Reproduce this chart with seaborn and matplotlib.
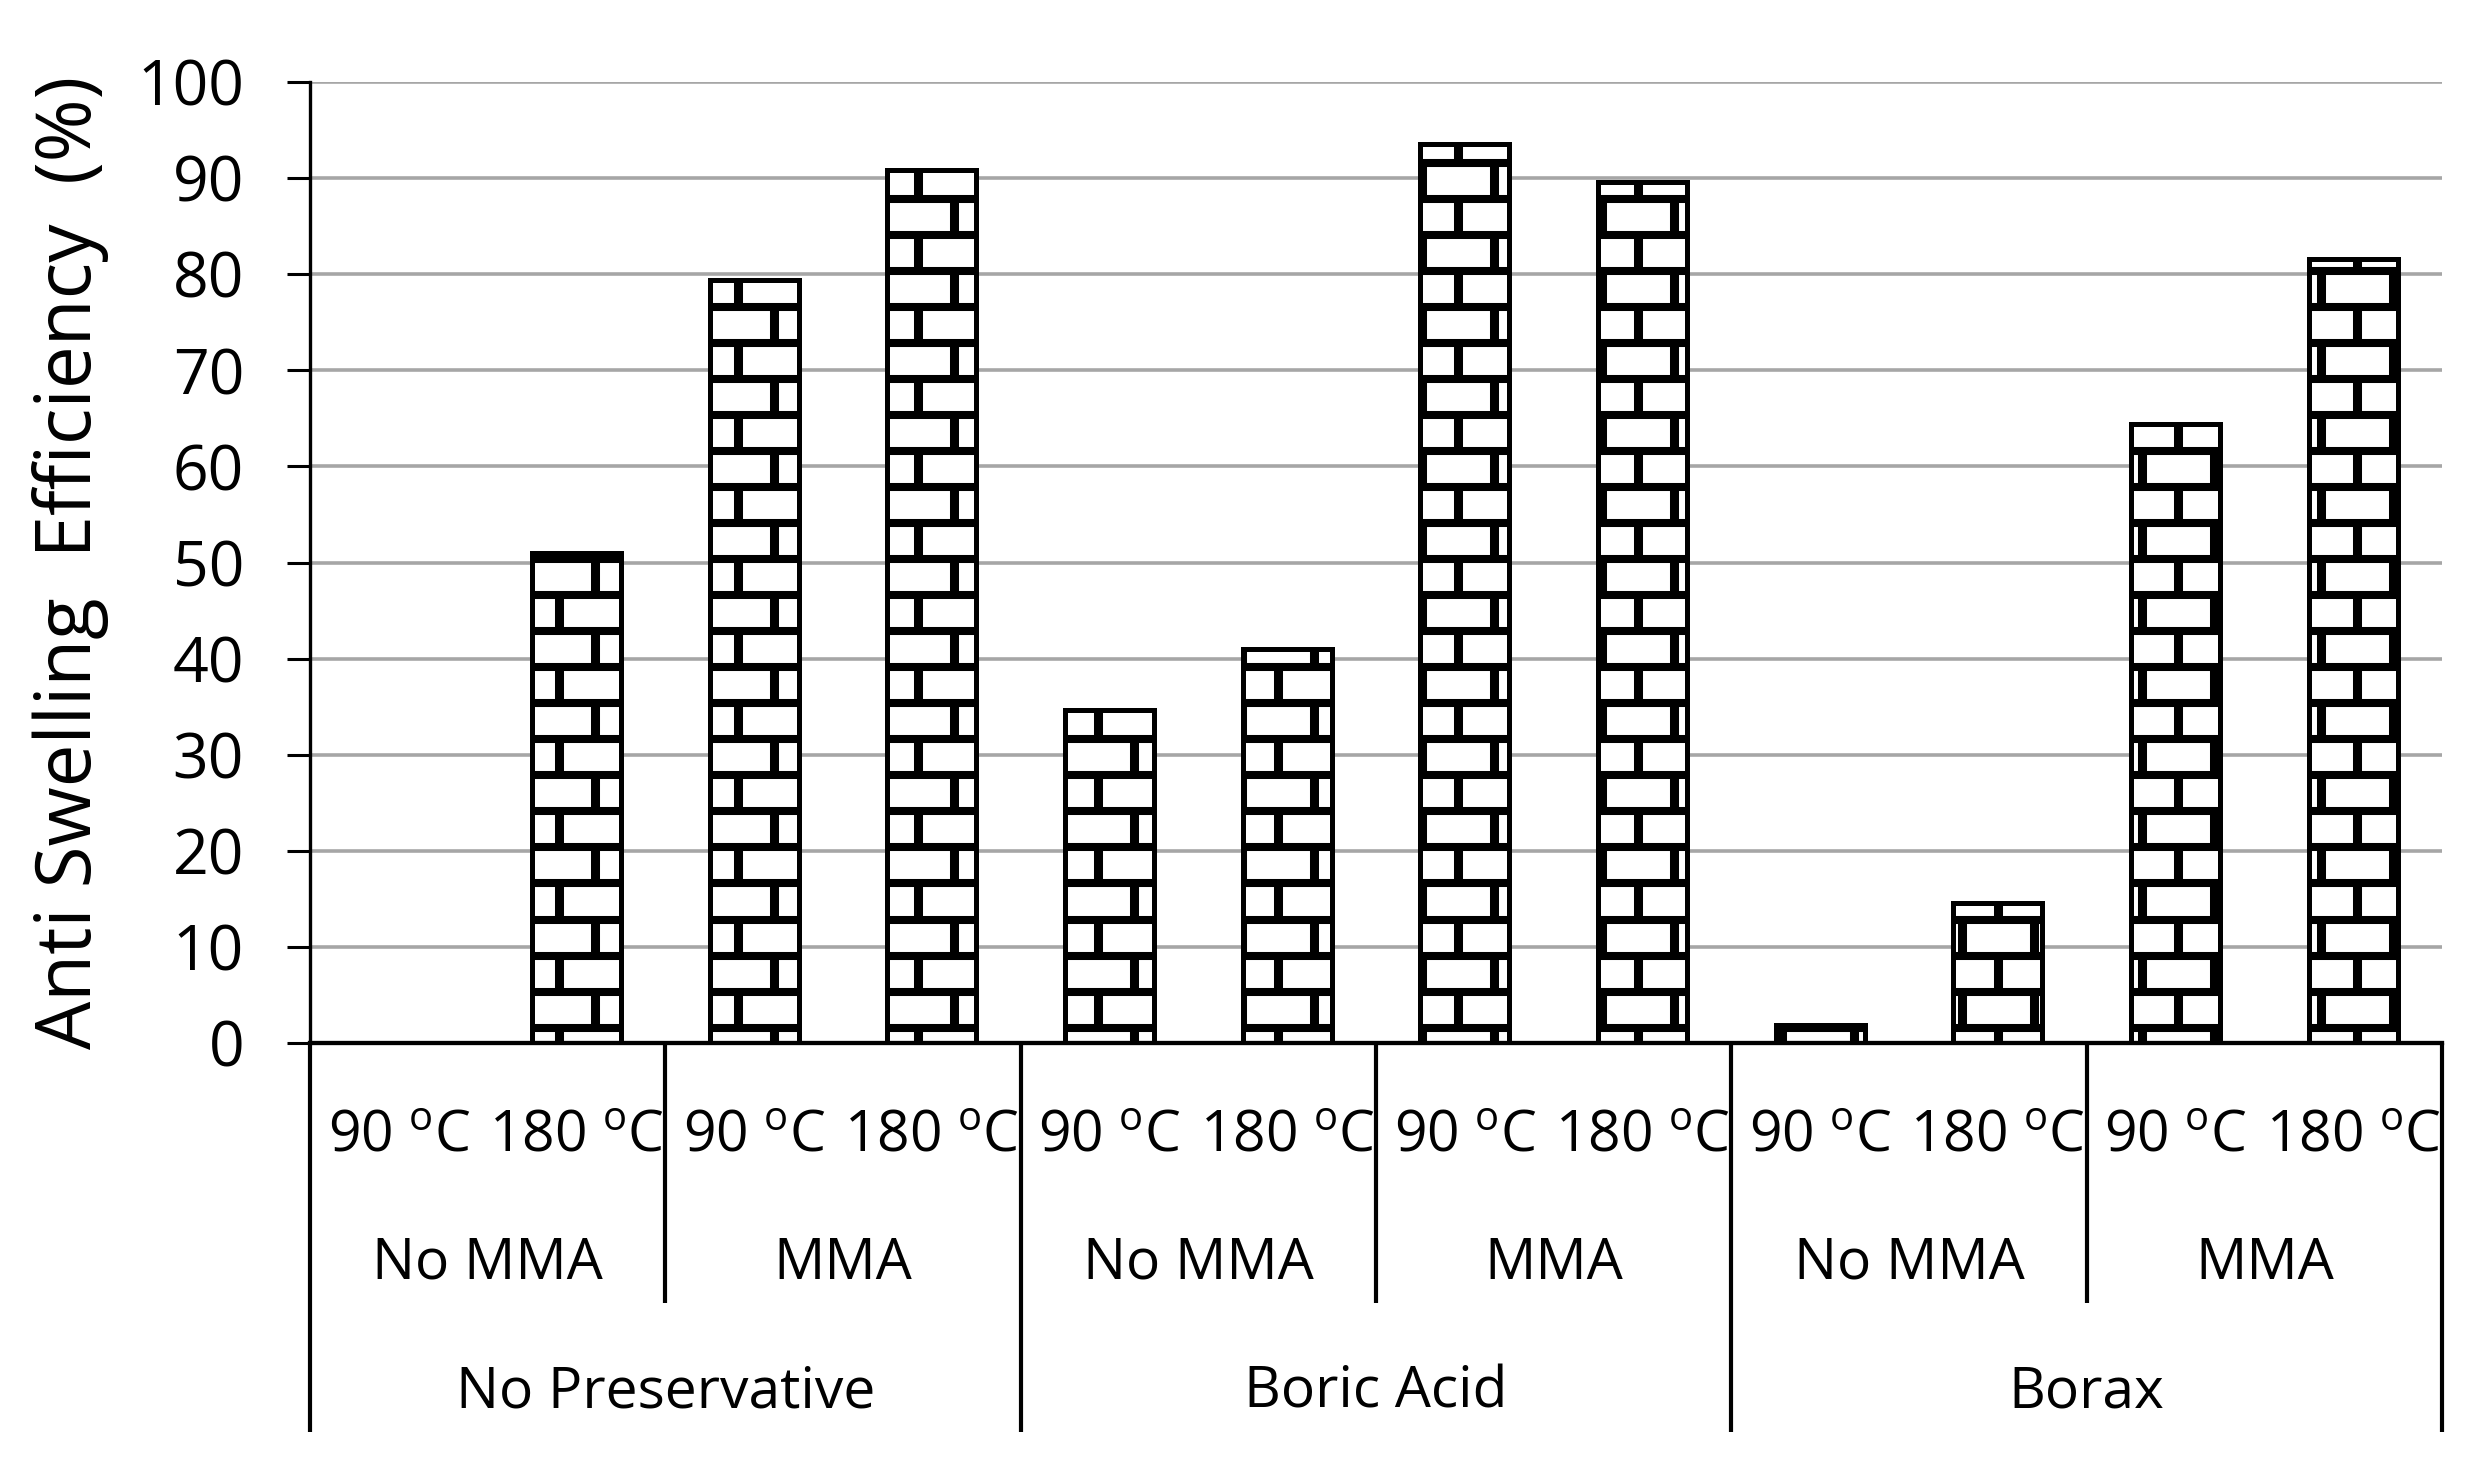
import numpy as np
import pandas as pd
import matplotlib
matplotlib.use("Agg")
import matplotlib.pyplot as plt
import matplotlib.transforms as mtransforms
from matplotlib.collections import LineCollection
import seaborn as sns

# ── Data ──────────────────────────────────────────────────────────────────────

preservatives = ["No Preservative", "Boric Acid", "Borax"]
mma_groups = ["No MMA", "MMA"]
temps = ["90 $^{\\mathrm{o}}$C", "180 $^{\\mathrm{o}}$C"]

ase = [0.0, 51.0, 79.4, 90.8,
       34.7, 41.0, 93.5, 89.6,
       1.9, 14.6, 64.4, 81.6]

rows = []
i = 0
for p in preservatives:
    for m in mma_groups:
        for t in temps:
            rows.append({"key": f"{p}|{m}|{t}", "pres": p, "mma": m,
                         "temp": t, "ase": ase[i]})
            i += 1
df = pd.DataFrame(rows)

# ── Style ─────────────────────────────────────────────────────────────────────

sns.set_style("white")
plt.rcParams["font.family"] = ["Open Sans", "DejaVu Sans"]
plt.rcParams["mathtext.fontset"] = "custom"
plt.rcParams["mathtext.rm"] = "Open Sans"
plt.rcParams["text.color"] = "black"
plt.rcParams["axes.labelcolor"] = "black"
plt.rcParams["ytick.color"] = "black"

fig = plt.figure(figsize=(24.67, 14.68), dpi=100)
ax = fig.add_axes([310 / 2467, 1 - 1043 / 1468, 2132 / 2467, 961 / 1468])

sns.barplot(data=df, x="key", y="ase", order=df["key"], width=0.5,
            color="white", saturation=1, edgecolor="black", linewidth=3.6,
            errorbar=None, ax=ax, zorder=2)

ax.set_ylim(0, 100)
ax.set_xlim(-0.5, len(df) - 0.5)
ax.set_yticks(range(0, 101, 10))
ax.set_axisbelow(True)
ax.yaxis.grid(True, color="#a6a6a6", linewidth=2.6)
ax.xaxis.grid(False)

for s in ["top", "right"]:
    ax.spines[s].set_visible(False)
ax.spines["left"].set_linewidth(2.4)
ax.spines["bottom"].set_linewidth(3.1)
ax.spines["left"].set_color("black")
ax.spines["bottom"].set_color("black")
ax.spines["bottom"].set_zorder(5)

ax.tick_params(axis="y", direction="out", length=16.5, width=2.2,
               color="black", labelcolor="black", labelsize=45, pad=31,
               left=True)
ax.tick_params(axis="x", bottom=False, labelbottom=False)
ax.set_xlabel("")
ax.set_ylabel("Anti Swelling  Efficiency  (%)", fontsize=55, labelpad=20,
              color="black")

# ── Brick pattern inside each bar ─────────────────────────────────────────────

row_pitch = 3.75      # data units
row_start = 1.6
brick_len = 0.405     # x data units
joint_x0 = 0.899

for bar in ax.patches:
    x0 = bar.get_x()
    w = bar.get_width()
    h = bar.get_height()
    if h <= 0:
        continue
    hsegs = []
    ys = np.arange(row_start, h, row_pitch)
    for y in ys:
        hsegs.append([(x0, y), (x0 + w, y)])
    vsegs = []
    bounds = np.concatenate([[0], ys, [h]])
    for r in range(len(bounds) - 1):
        phase = joint_x0 + (r % 2) * brick_len / 2
        k0 = np.floor((x0 - phase) / brick_len) - 1
        xs = phase + brick_len * np.arange(k0, k0 + 6)
        for xj in xs:
            if x0 - 0.03 <= xj <= x0 + w + 0.03:
                vsegs.append([(xj, bounds[r]), (xj, bounds[r + 1])])
    for segs, lw in [(hsegs, 5.8), (vsegs, 6.5)]:
        lc = LineCollection(segs, colors="black", linewidths=lw,
                            capstyle="butt", zorder=3)
        ax.add_collection(lc)
        lc.set_clip_path(bar)
    # redraw the outline on top
    ax.add_patch(plt.Rectangle((x0, 0), w, h, fill=False, edgecolor="black",
                               linewidth=3.6, zorder=4))

# ── Multi-level category axis ─────────────────────────────────────────────────

trans = mtransforms.blended_transform_factory(ax.transData, ax.transAxes)
n = len(df)
for idx, t in enumerate(df["temp"]):
    ax.text(idx, -0.099, t, transform=trans, ha="center", va="center",
            fontsize=41)
for g in range(n // 2):
    ax.text(2 * g + 0.5, -0.230, df["mma"][2 * g], transform=trans,
            ha="center", va="center", fontsize=41)
for p in range(n // 4):
    ax.text(4 * p + 1.5, -0.364, df["pres"][4 * p], transform=trans,
            ha="center", va="center", fontsize=41)

for b in np.arange(-0.5, n, 2):
    bottom = -0.4048 if (b + 0.5) % 4 == 0 else -0.2706
    ax.plot([b, b], [0, bottom], transform=trans, color="black",
            linewidth=3.0, clip_on=False, solid_capstyle="butt")

fig.savefig("out.png", dpi=100)
